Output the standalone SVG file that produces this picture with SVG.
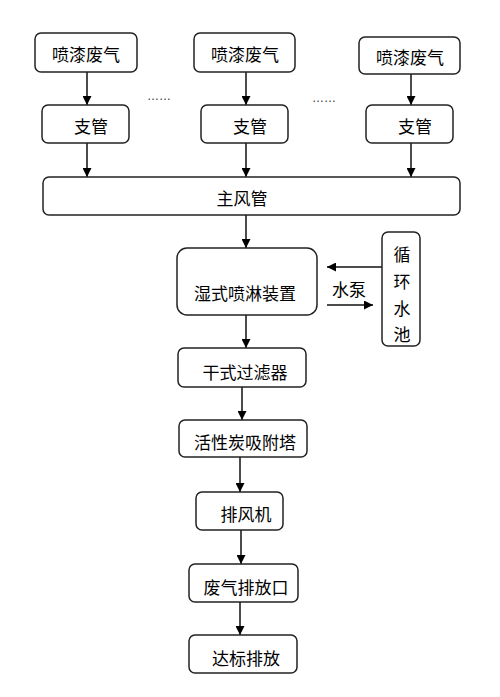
<svg xmlns="http://www.w3.org/2000/svg" width="500" height="697" viewBox="0 0 500 697">
<style>
.b{fill:#fff;stroke:#222;stroke-width:1.5}
.t{font-family:"Noto Sans CJK SC","Liberation Sans",sans-serif;font-size:17px;fill:#000;text-anchor:middle;dominant-baseline:central}
.c{stroke:#111;stroke-width:1.5;fill:none}
</style>
<defs>
<marker id="a" viewBox="0 0 10 10" refX="10" refY="5" markerWidth="9" markerHeight="9" markerUnits="userSpaceOnUse" orient="auto"><path d="M0,0L10,5L0,10z" fill="#000"/></marker>
</defs>
<rect width="500" height="697" fill="#fff"/>
<g id="connectors">
<line class="c" x1="87" y1="72" x2="87" y2="105" marker-end="url(#a)"/>
<line class="c" x1="246" y1="72" x2="246" y2="105" marker-end="url(#a)"/>
<line class="c" x1="411" y1="74" x2="411" y2="105" marker-end="url(#a)"/>
<line class="c" x1="87" y1="143" x2="87" y2="177" marker-end="url(#a)"/>
<line class="c" x1="246" y1="143" x2="246" y2="177" marker-end="url(#a)"/>
<line class="c" x1="411" y1="143" x2="411" y2="177" marker-end="url(#a)"/>
<line class="c" x1="246" y1="215" x2="246" y2="248" marker-end="url(#a)"/>
<line class="c" x1="382" y1="267" x2="327" y2="267" marker-end="url(#a)"/>
<line class="c" x1="327" y1="305" x2="373" y2="305" marker-end="url(#a)"/>
<line class="c" x1="246" y1="315" x2="246" y2="348" marker-end="url(#a)"/>
<line class="c" x1="242" y1="387" x2="242" y2="420" marker-end="url(#a)"/>
<line class="c" x1="240" y1="457" x2="240" y2="492" marker-end="url(#a)"/>
<line class="c" x1="241" y1="530" x2="241" y2="564" marker-end="url(#a)"/>
<line class="c" x1="240" y1="602" x2="240" y2="635" marker-end="url(#a)"/>
</g>
<g id="src1"><rect class="b" x="35" y="33" width="102" height="39" rx="6"/><text class="t" x="86" y="53">喷漆废气</text></g>
<g id="src2"><rect class="b" x="194" y="33" width="101" height="39" rx="6"/><text class="t" x="245" y="53">喷漆废气</text></g>
<g id="src3"><rect class="b" x="359" y="37" width="101" height="37" rx="6"/><text class="t" x="410" y="56">喷漆废气</text></g>
<text x="147" y="100" font-family="Liberation Sans,sans-serif" font-size="12" fill="#333">……</text>
<text x="312" y="102" font-family="Liberation Sans,sans-serif" font-size="12" fill="#333">……</text>
<g id="branch1"><rect class="b" x="42" y="105" width="87" height="38" rx="6"/><text class="t" x="91" y="125">支管</text></g>
<g id="branch2"><rect class="b" x="201" y="105" width="87" height="38" rx="6"/><text class="t" x="250" y="125">支管</text></g>
<g id="branch3"><rect class="b" x="366" y="105" width="87" height="38" rx="6"/><text class="t" x="415" y="125">支管</text></g>
<g id="main"><rect class="b" x="43" y="177" width="417" height="38" rx="6"/><text class="t" x="242" y="197">主风管</text></g>
<g id="wet"><rect class="b" x="177" y="248" width="140" height="67" rx="10"/><text class="t" x="245" y="292">湿式喷淋装置</text></g>
<g id="pool"><rect class="b" x="382" y="232" width="38" height="114" rx="6"/>
<text class="t" x="402" y="253">循</text><text class="t" x="402" y="280">环</text><text class="t" x="402" y="307">水</text><text class="t" x="402" y="333">池</text></g>
<text class="t" x="349" y="288">水泵</text>
<g id="dry"><rect class="b" x="178" y="348" width="128" height="39" rx="6"/><text class="t" x="245" y="371">干式过滤器</text></g>
<g id="carbon"><rect class="b" x="179" y="420" width="128" height="37" rx="6"/><text class="t" x="245" y="441">活性炭吸附塔</text></g>
<g id="fan"><rect class="b" x="196" y="492" width="87" height="38" rx="6"/><text class="t" x="246" y="513">排风机</text></g>
<g id="outlet"><rect class="b" x="189" y="564" width="109" height="38" rx="6"/><text class="t" x="246" y="586">废气排放口</text></g>
<g id="ok"><rect class="b" x="189" y="635" width="108" height="38" rx="6"/><text class="t" x="246" y="657">达标排放</text></g>
</svg>
